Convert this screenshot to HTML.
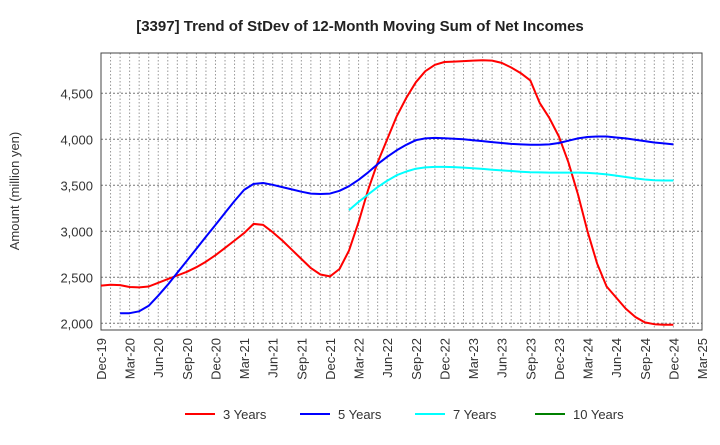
<!DOCTYPE html>
<html><head><meta charset="utf-8"><style>
body{margin:0;background:#fff;font-family:"Liberation Sans",sans-serif}
</style></head><body>
<svg id="chart" width="720" height="440" xmlns="http://www.w3.org/2000/svg">
<text x="360" y="31" text-anchor="middle" font-size="15" font-weight="bold" fill="#222">[3397]  Trend of StDev of 12-Month Moving Sum of Net Incomes</text>
<text transform="translate(19,191) rotate(-90)" text-anchor="middle" font-size="13" fill="#333">Amount (million yen)</text>
<g id="grid"></g><g id="axes"></g><g id="series"></g><g id="legend"></g>
</svg>
<script>
const xTickLabels=["Dec-19","Mar-20","Jun-20","Sep-20","Dec-20","Mar-21","Jun-21","Sep-21","Dec-21","Mar-22","Jun-22","Sep-22","Dec-22","Mar-23","Jun-23","Sep-23","Dec-23","Mar-24","Jun-24","Sep-24","Dec-24","Mar-25"];
const yTicks=[2000,2500,3000,3500,4000,4500];
const seriesNames=["3 Years","5 Years","7 Years","10 Years"];
const seriesColors=["#ff0000","#0000ff","#00ffff","#008000"];
const red=[2410,2420,2415,2395,2390,2400,2440,2480,2520,2560,2610,2670,2740,2820,2900,2980,3080,3070,2990,2900,2800,2700,2600,2530,2510,2590,2790,3100,3450,3750,4000,4250,4450,4620,4740,4810,4840,4845,4850,4855,4860,4855,4830,4780,4720,4640,4394,4230,4030,3750,3400,3000,2650,2400,2280,2160,2070,2010,1990,1985,1985];
const blue=[2110,2110,2130,2190,2300,2420,2550,2680,2810,2940,3070,3200,3330,3450,3515,3525,3505,3480,3455,3430,3410,3405,3410,3440,3490,3560,3640,3730,3810,3880,3940,3990,4010,4015,4012,4005,4000,3990,3980,3970,3960,3950,3945,3940,3940,3945,3960,3985,4010,4025,4030,4030,4020,4010,3995,3980,3965,3955,3945];
const cyan=[3230,3320,3400,3480,3550,3610,3650,3680,3695,3700,3700,3698,3692,3685,3678,3670,3662,3655,3648,3642,3640,3638,3638,3638,3638,3635,3628,3618,3605,3590,3575,3563,3555,3552,3552];
const green=[];
const starts=[0,2,26,0];
const L=101,R=702,T=53,B=330;
const xs=m=>L+(R-L)*m/63;
const ys=v=>323.3-(v-2000)*46/500;
const NS="http://www.w3.org/2000/svg";
function mk(t,a,p){const e=document.createElementNS(NS,t);for(const k in a)e.setAttribute(k,a[k]);p.appendChild(e);return e;}
const g=document.getElementById('grid'),ax=document.getElementById('axes'),sg=document.getElementById('series'),lg=document.getElementById('legend');
for(let m=1;m<63;m++){const l=mk('line',{x1:xs(m),x2:xs(m),y1:T,y2:B,stroke:'#999','stroke-dasharray':'1.5,2','stroke-width':1},g);

}
yTicks.forEach(v=>{const l=mk('line',{x1:L,x2:R,y1:ys(v),y2:ys(v),stroke:'#777','stroke-dasharray':'2,2','stroke-width':1},g);


const t=mk('text',{x:L-8,y:ys(v)+5,'text-anchor':'end','font-size':13,fill:'#333'},ax);t.textContent=v.toLocaleString('en-US');

});
const box=mk('rect',{x:L,y:T,width:R-L,height:B-T,fill:'none',stroke:'#444','stroke-width':1},ax);


xTickLabels.forEach((s,i)=>{const x=xs(i*3);const t=mk('text',{transform:`translate(${x+5},${B+8}) rotate(-90)`,'text-anchor':'end','font-size':13,fill:'#333'},ax);t.textContent=s;

});
[red,blue,cyan,green].forEach((d,i)=>{if(!d.length)return;const pts=d.map((v,j)=>xs(starts[i]+j).toFixed(1)+','+ys(v).toFixed(1)).join(' ');
const p=mk('polyline',{points:pts,fill:'none',stroke:seriesColors[i],'stroke-width':2,'stroke-linejoin':'round'},sg);

});
const lx=[185,300,415,535];
seriesNames.forEach((s,i)=>{const gg=mk('g',{},lg);


mk('line',{x1:lx[i],x2:lx[i]+30,y1:414,y2:414,stroke:seriesColors[i],'stroke-width':2},gg);
const t=mk('text',{x:lx[i]+38,y:419,'font-size':13,fill:'#333'},gg);t.textContent=s;});
</script>
</body></html>
